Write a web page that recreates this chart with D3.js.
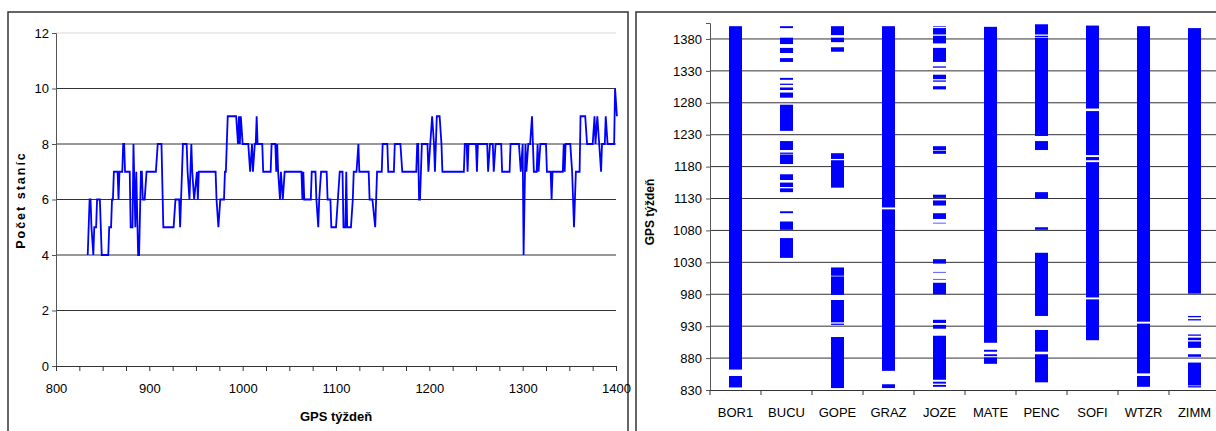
<!DOCTYPE html>
<html>
<head>
<meta charset="utf-8">
<script src="https://cdn.jsdelivr.net/npm/d3@7"></script>
<style>
    body { margin: 0; background: #fff; }
    svg { display: block; }
    .narrow { font-family: 'Liberation Sans Narrow', 'Arial Narrow', 'Liberation Sans', Arial, sans-serif; font-stretch: condensed; }
    .reg { font-family: 'Liberation Sans', Arial, sans-serif; }
</style>
</head>
<body>
<svg width="1216" height="431"></svg>
<script>
// --- left chart: number of stations per GPS week (vertices)
const weeks = [
    834, 836, 837, 838, 840, 841, 843, 844, 847, 849, 856, 857, 859, 860, 861, 862, 866, 867, 868, 871,
    872, 873, 874, 879, 880, 882, 883, 885, 886, 888, 889, 891, 892, 893, 895, 897, 907, 909, 913, 915,
    926, 928, 932, 933, 936, 940, 941, 943, 945, 946, 948, 951, 952, 953, 971, 972, 974, 976, 980, 981,
    982, 984, 993, 995, 996, 997, 998, 1000, 1006, 1008, 1010, 1011, 1013, 1014, 1015, 1016, 1021, 1022, 1030, 1031,
    1035, 1036, 1037, 1038, 1040, 1041, 1043, 1045, 1063, 1064, 1065, 1066, 1073, 1074, 1078, 1079, 1081, 1082, 1084, 1090,
    1091, 1094, 1095, 1100, 1102, 1104, 1107, 1108, 1110, 1111, 1112, 1116, 1118, 1119, 1122, 1124, 1125, 1135, 1136, 1139,
    1142, 1143, 1144, 1149, 1150, 1155, 1156, 1162, 1163, 1169, 1171, 1186, 1187, 1188, 1189, 1190, 1192, 1198, 1199, 1201,
    1203, 1205, 1206, 1207, 1208, 1211, 1213, 1214, 1237, 1238, 1240, 1241, 1242, 1250, 1251, 1252, 1262, 1263, 1265, 1268,
    1269, 1271, 1277, 1278, 1286, 1287, 1296, 1298, 1300, 1301, 1303, 1304, 1306, 1308, 1310, 1312, 1315, 1316, 1317, 1319,
    1325, 1326, 1330, 1331, 1332, 1343, 1344, 1345, 1346, 1351, 1353, 1355, 1357, 1361, 1362, 1367, 1369, 1375, 1377, 1378,
    1380, 1382, 1384, 1385, 1388, 1389, 1391, 1398, 1399, 1401
];
const counts = [
    4, 6, 6, 5, 4, 5, 5, 6, 6, 4, 4, 5, 5, 6, 6, 7, 7, 6, 7, 7,
    8, 8, 7, 7, 5, 5, 8, 5, 7, 4, 4, 7, 7, 6, 6, 7, 7, 8, 8, 5,
    5, 6, 6, 5, 8, 8, 7, 6, 8, 7, 6, 7, 6, 7, 7, 6, 5, 6, 6, 7,
    7, 9, 9, 8, 9, 8, 9, 8, 8, 7, 8, 7, 8, 8, 9, 8, 8, 7, 7, 8,
    8, 7, 8, 7, 6, 7, 6, 7, 7, 6, 7, 6, 6, 7, 7, 6, 5, 6, 7, 7,
    6, 6, 5, 5, 6, 7, 7, 5, 5, 7, 5, 5, 6, 7, 7, 8, 7, 7, 6, 6,
    5, 6, 7, 7, 8, 8, 7, 7, 8, 8, 7, 7, 8, 8, 6, 6, 8, 8, 7, 8,
    9, 8, 7, 8, 9, 9, 8, 7, 7, 8, 8, 7, 8, 8, 7, 8, 8, 7, 8, 8,
    7, 8, 8, 7, 7, 8, 8, 7, 8, 4, 8, 7, 8, 8, 9, 7, 7, 8, 7, 8,
    8, 7, 7, 6, 7, 7, 8, 7, 8, 8, 7, 5, 7, 7, 9, 9, 8, 8, 9, 8,
    9, 8, 7, 8, 8, 9, 8, 8, 10, 9
];
const countTicks = [0, 2, 4, 6, 8, 10, 12];
const weekLabels = [800, 900, 1000, 1100, 1200, 1300, 1400];

// --- right chart: observed intervals [from, to] in GPS weeks for each station
const stations = ['BOR1', 'BUCU', 'GOPE', 'GRAZ', 'JOZE', 'MATE', 'PENC', 'SOFI', 'WTZR', 'ZIMM'];
const bor1 = [[834, 852], [862, 1400]];
const bucu = [[1037, 1068], [1081, 1094], [1107, 1110], [1140, 1146], [1148, 1155], [1159, 1168], [1184, 1199],
    [1200, 1202], [1206, 1220], [1236, 1277], [1288, 1296], [1300, 1304], [1308, 1310], [1316, 1319], [1344, 1350],
    [1358, 1366], [1372, 1382], [1397, 1400]];
const gope = [[833, 913], [932, 934], [936, 971], [979, 1008], [1009, 1022], [1147, 1190], [1192, 1201],
    [1360, 1367], [1375, 1382], [1386, 1400]];
const graz = [[833, 839], [860, 1113], [1116, 1400]];
const joze = [[835, 838], [840, 843], [846, 915], [926, 932], [935, 940], [980, 998], [1003, 1004], [1014, 1015],
    [1028, 1035], [1091, 1092], [1098, 1107], [1119, 1127], [1131, 1136], [1200, 1205], [1206, 1212], [1301, 1306],
    [1313, 1315], [1317, 1324], [1335, 1337], [1344, 1366], [1373, 1385], [1387, 1397], [1399, 1400]];
const mate = [[871, 881], [883, 886], [890, 893], [904, 1399]];
const penc = [[842, 886], [890, 924], [946, 1045], [1081, 1085], [1130, 1140], [1206, 1220], [1228, 1382],
    [1383, 1385], [1387, 1403]];
const sofi = [[908, 972], [975, 1187], [1190, 1195], [1198, 1267], [1271, 1401]];
const wtzr = [[835, 852], [856, 934], [937, 1400]];
const zimm = [[834, 836], [837, 873], [882, 886], [896, 906], [908, 912], [915, 917], [939, 941], [944, 946],
    [981, 1397]];
const intervals = [bor1, bucu, gope, graz, joze, mate, penc, sofi, wtzr, zimm];
const weekTicks = [830, 880, 930, 980, 1030, 1080, 1130, 1180, 1230, 1280, 1330, 1380];

const svg = d3.select('svg');

// ================= left chart =================
svg.append('rect')
    .attr('x', 8).attr('y', 12).attr('width', 620).attr('height', 440)
    .attr('fill', 'none').attr('stroke', '#333').attr('stroke-width', 1.5);

const xL = d3.scaleLinear().domain([800, 1400]).range([56, 616]);
const yL = d3.scaleLinear().domain([0, 12]).range([366, 33]);

const left = svg.append('g');

// grid
left.append('g')
    .selectAll('line')
    .data(countTicks.filter((d) => d > 0))
    .join('line')
    .attr('x1', xL(800)).attr('x2', xL(1400))
    .attr('y1', (d) => yL(d)).attr('y2', (d) => yL(d))
    .attr('stroke', (d) => (d === 12 ? '#d8d8d8' : '#333'))
    .attr('stroke-width', 1);

const yAxisL = left.append('g')
    .attr('transform', `translate(${xL(800)},0)`)
    .call(d3.axisLeft(yL).tickValues(countTicks).tickSize(4).tickPadding(3));
yAxisL.select('.domain').attr('stroke', '#555');
yAxisL.selectAll('line').attr('stroke', '#555');
yAxisL.selectAll('text').attr('class', 'narrow').attr('font-size', 13).attr('fill', '#000');

const xAxisL = left.append('g')
    .attr('transform', `translate(0,${yL(0)})`)
    .call(d3.axisBottom(xL).tickValues(d3.range(800, 1401, 25)).tickSize(5).tickPadding(13)
        .tickFormat((d) => (weekLabels.includes(d) ? d : '')));
xAxisL.select('.domain').attr('stroke', '#333');
xAxisL.selectAll('line').attr('stroke', '#333');
xAxisL.selectAll('text').attr('class', 'narrow').attr('font-size', 13).attr('fill', '#000');

const lineGenerator = d3
    .line()
    .x((d, i) => xL(weeks[i]))
    .y((d) => yL(d));

left.append('path')
    .attr('d', lineGenerator(counts))
    .attr('fill', 'none')
    .attr('stroke', '#0000ff')
    .attr('stroke-width', 1.8)
    .attr('stroke-linejoin', 'miter');

left.append('text')
    .attr('class', 'narrow')
    .attr('x', 336).attr('y', 421)
    .attr('text-anchor', 'middle')
    .attr('font-size', 13).attr('font-weight', 'bold')
    .text('GPS týždeň');

left.append('text')
    .attr('class', 'reg')
    .attr('transform', 'translate(25,200) rotate(-90)')
    .attr('text-anchor', 'middle')
    .attr('font-size', 12.5).attr('font-weight', 'bold')
    .attr('letter-spacing', 2)
    .text('Počet staníc');

// ================= right chart =================
svg.append('rect')
    .attr('x', 636).attr('y', 12).attr('width', 600).attr('height', 440)
    .attr('fill', 'none').attr('stroke', '#333').attr('stroke-width', 1.5);

const xR = d3.scaleBand().domain(stations).range([710, 1220]);
const yR = d3.scaleLinear().domain([830, 1405]).range([390, 23]);

const right = svg.append('g');

right.append('g')
    .selectAll('line')
    .data(weekTicks.slice(1))
    .join('line')
    .attr('x1', 710).attr('x2', 1220)
    .attr('y1', (d) => yR(d)).attr('y2', (d) => yR(d))
    .attr('stroke', '#333')
    .attr('stroke-width', 1);

const barW = 13;
right.append('g')
    .selectAll('g')
    .data(intervals)
    .join('g')
    .attr('transform', (d, i) => `translate(${xR(stations[i]) + xR.bandwidth() / 2 - barW / 2},0)`)
    .selectAll('rect')
    .data((d) => d)
    .join('rect')
    .attr('x', 0)
    .attr('width', barW)
    .attr('y', (d) => yR(d[1]))
    .attr('height', (d) => yR(d[0]) - yR(d[1]))
    .attr('fill', '#0000ff');

const yAxisR = right.append('g')
    .attr('transform', 'translate(710,0)')
    .call(d3.axisLeft(yR).tickValues(weekTicks).tickSize(4).tickPadding(4).tickFormat(d3.format('d')));
yAxisR.select('.domain').attr('stroke', '#555');
yAxisR.selectAll('line').attr('stroke', '#555');
yAxisR.selectAll('text').attr('class', 'reg').attr('font-size', 13).attr('fill', '#000');

const xAxisR = right.append('g')
    .attr('transform', `translate(0,${yR(830)})`)
    .call(d3.axisBottom(xR).tickSize(0).tickPadding(18));
xAxisR.select('.domain').attr('stroke', '#333');
xAxisR.selectAll('text').attr('class', 'reg').attr('font-size', 13).attr('fill', '#000');
// separators between stations
xAxisR.append('g')
    .selectAll('line')
    .data(stations)
    .join('line')
    .attr('x1', (d) => xR(d)).attr('x2', (d) => xR(d))
    .attr('y1', 0).attr('y2', 5)
    .attr('stroke', '#333');

right.append('text')
    .attr('class', 'reg')
    .attr('transform', 'translate(654,212) rotate(-90)')
    .attr('text-anchor', 'middle')
    .attr('font-size', 12).attr('font-weight', 'bold')
    .text('GPS týždeň');
</script>
</body>
</html>
